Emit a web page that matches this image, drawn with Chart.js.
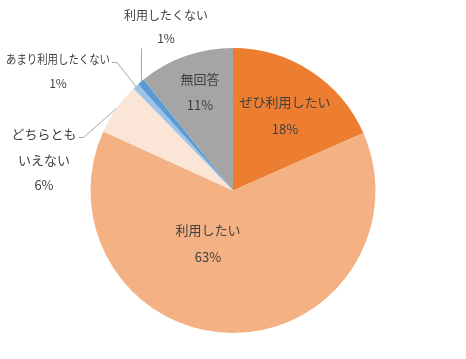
<!DOCTYPE html>
<html>
<head>
<meta charset="utf-8">
<script src="https://cdn.jsdelivr.net/npm/chart.js@4/dist/chart.umd.min.js"></script>
<style>
html,body{margin:0;padding:0;background:#fff;}
canvas{display:block;}
</style>
</head>
<body>
<canvas id="c" width="466" height="359"></canvas>
<script>
// Data (clockwise from 12 o'clock)
const categories = ['ぜひ利用したい', '利用したい', 'どちらとも\nいえない', 'あまり利用したくない', '利用したくない', '無回答'];
const values = [18.4, 63.4, 5.9, 0.7, 0.8, 10.8];
const colors = ['#ED7D31', '#F4B183', '#FBE5D6', '#9DC3E6', '#5B9BD5', '#A5A5A5'];

// Label layout: offset of label block (first line centre) from pie centre, line gap, font size, leader type
const labelLayout = [
  {dx: 52,   dy: -88,  gap: 27, size: 13, leader: null},
  {dx: -25,  dy: 40,   gap: 27, size: 13, leader: null},
  {dx: -189, dy: -56,  gap: 25.5, size: 13, leader: 'elbow', maxW: null},
  {dx: -175, dy: -131, gap: 24, size: 12, leader: 'elbow', maxW: 104},
  {dx: -67,  dy: -175, gap: 23, size: 12, leader: 'vertical'},
  {dx: -33,  dy: -111, gap: 26, size: 13, leader: null}
];

const labelPlugin = {
  id: 'pieLabels',
  afterDatasetsDraw(chart) {
    const ctx = chart.ctx;
    const meta = chart.getDatasetMeta(0);
    const total = values.reduce((a, b) => a + b, 0);
    meta.data.forEach((arc, i) => {
      const L = labelLayout[i];
      const cx = arc.x, cy = arc.y, R = arc.outerRadius;
      const lines = categories[i].split('\n');
      lines.push(Math.round(values[i] / total * 100) + '%');
      const x0 = cx + L.dx, y0 = cy + L.dy;
      ctx.save();
      ctx.fillStyle = '#404040';
      ctx.textAlign = 'center';
      ctx.textBaseline = 'middle';
      const widths = [];
      lines.forEach((t, k) => {
        ctx.font = L.size + 'px "Noto Sans CJK JP"';
        let w = ctx.measureText(t).width;
        if (L.maxW && k === 0 && w > L.maxW) { ctx.fillText(t, x0, y0, L.maxW); w = L.maxW; }
        else ctx.fillText(t, x0, y0 + k * L.gap);
        widths.push(w);
      });
      // leader lines
      if (L.leader) {
        const mid = (arc.startAngle + arc.endAngle) / 2;
        const px = cx + Math.cos(mid) * R, py = cy + Math.sin(mid) * R;
        ctx.strokeStyle = '#A6A6A6';
        ctx.lineWidth = 1;
        ctx.beginPath();
        if (L.leader === 'vertical') {
          const tx = Math.round(px) + 0.5;
          ctx.moveTo(tx, py);
          ctx.lineTo(tx, y0 + L.gap + 10);
        } else {
          const sx = x0 + widths[0] / 2 + 2;
          const ly = Math.round(y0 + 2) + 0.5;
          ctx.moveTo(sx, ly);
          ctx.lineTo(sx + 5, ly);
          ctx.lineTo(px, py);
        }
        ctx.stroke();
      }
      ctx.restore();
    });
  }
};

new Chart(document.getElementById('c'), {
  type: 'pie',
  data: {
    labels: categories,
    datasets: [{
      data: values,
      backgroundColor: colors,
      borderWidth: 0
    }]
  },
  options: {
    responsive: false,
    animation: false,
    layout: {padding: {top: 48, bottom: 26, left: 0, right: 0}},
    plugins: {legend: {display: false}, tooltip: {enabled: false}}
  },
  plugins: [labelPlugin]
});
</script>
</body>
</html>
